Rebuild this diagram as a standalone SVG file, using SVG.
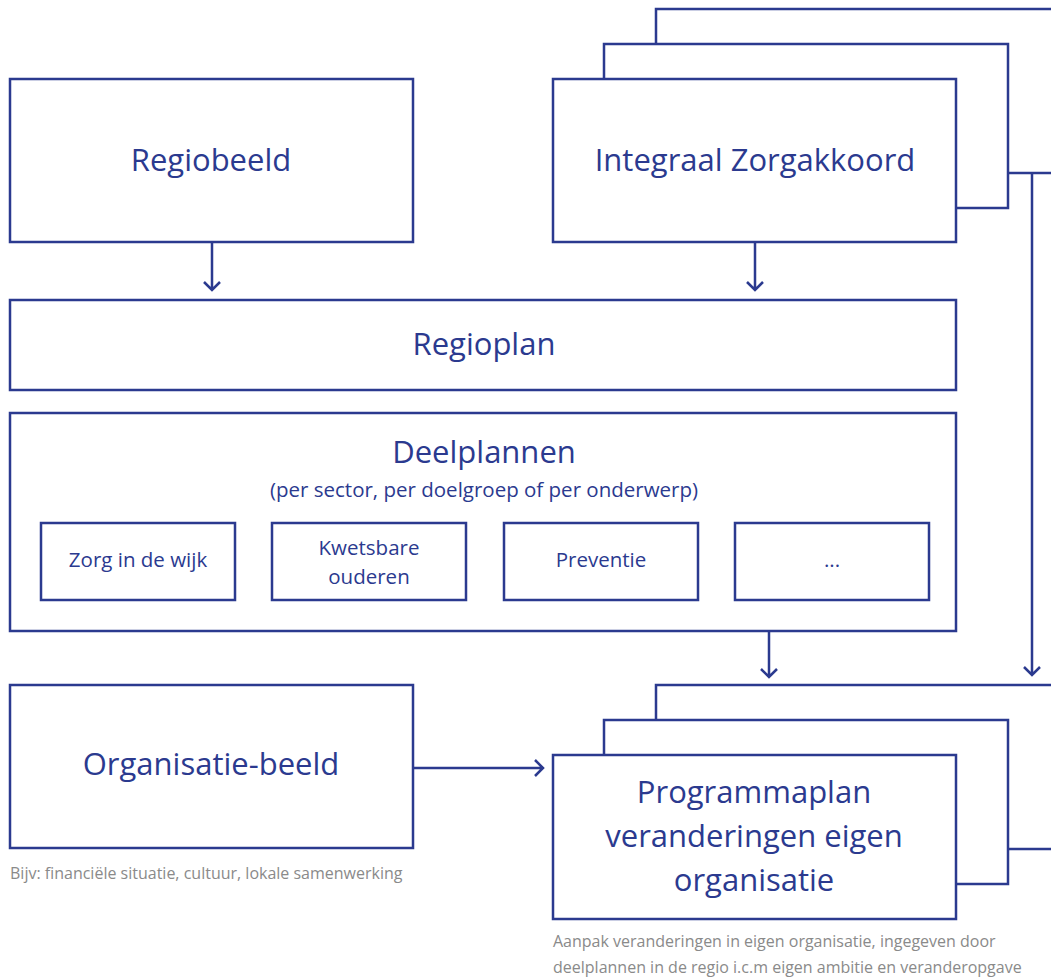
<svg xmlns="http://www.w3.org/2000/svg" width="1051" height="980" viewBox="0 0 1051 980">
<style>
.b{fill:#fff;stroke:#2b3a8f;stroke-width:2.5}
.l{fill:none;stroke:#2b3a8f;stroke-width:2.5}
.t{font-family:"Open Sans",sans-serif;fill:#2b3a8f;text-anchor:middle}
.big{font-size:31px}
.sm{font-size:20.5px}
.cap{font-family:"Open Sans",sans-serif;fill:#8a8a8a;font-size:16px}
</style>
<rect width="1051" height="980" fill="#fff"/>
<g id="regiobeeld"><rect class="b" x="10" y="79" width="403" height="163"/><text class="t big" x="211" y="171">Regiobeeld</text></g>
<g id="izk">
<rect class="b" x="656" y="9" width="420" height="164"/>
<rect class="b" x="604" y="44" width="404" height="164"/>
<rect class="b" x="553" y="79" width="403" height="163"/>
<text class="t big" x="755" y="171">Integraal Zorgakkoord</text></g>
<g id="regioplan"><rect class="b" x="10" y="300" width="946" height="90"/><text class="t big" x="484" y="355">Regioplan</text></g>
<g id="deelplannen"><rect class="b" x="10" y="413" width="946" height="218"/>
<text class="t big" x="484" y="463">Deelplannen</text>
<text class="t sm" x="484" y="497">(per sector, per doelgroep of per onderwerp)</text></g>
<g id="zorg"><rect class="b" x="41" y="523" width="194" height="77"/><text class="t sm" x="138" y="567">Zorg in de wijk</text></g>
<g id="kwetsbare"><rect class="b" x="272" y="523" width="194" height="77"/><text class="t sm" x="369" y="555">Kwetsbare</text><text class="t sm" x="369" y="584">ouderen</text></g>
<g id="preventie"><rect class="b" x="504" y="523" width="194" height="77"/><text class="t sm" x="601" y="567">Preventie</text></g>
<g id="dots"><rect class="b" x="735" y="523" width="194" height="77"/><text class="t sm" x="832" y="567">...</text></g>
<g id="organisatie"><rect class="b" x="10" y="685" width="403" height="163"/><text class="t big" x="211" y="775">Organisatie-beeld</text>
<text class="cap" x="10" y="879">Bijv: financiële situatie, cultuur, lokale samenwerking</text></g>
<g id="programmaplan">
<rect class="b" x="656" y="685" width="420" height="164"/>
<rect class="b" x="604" y="720" width="404" height="164"/>
<rect class="b" x="553" y="755" width="403" height="164"/>
<text class="t big" x="754" y="803">Programmaplan</text>
<text class="t big" x="754" y="847">veranderingen eigen</text>
<text class="t big" x="754" y="891">organisatie</text>
<text class="cap" x="553" y="947">Aanpak veranderingen in eigen organisatie, ingegeven door</text>
<text class="cap" x="553" y="973">deelplannen in de regio i.c.m eigen ambitie en veranderopgave</text></g>
<g id="connectors">
<path class="l" d="M212 242V290M204 282L212 290L220 282"/>
<path class="l" d="M755 242V290M747 282L755 290L763 282"/>
<path class="l" d="M769 631V677M761 669L769 677L777 669"/>
<path class="l" d="M1032 173V675M1024 667L1032 675L1040 667"/>
<path class="l" d="M413 768H543M535 760L543 768L535 776"/>
</g>
</svg>
